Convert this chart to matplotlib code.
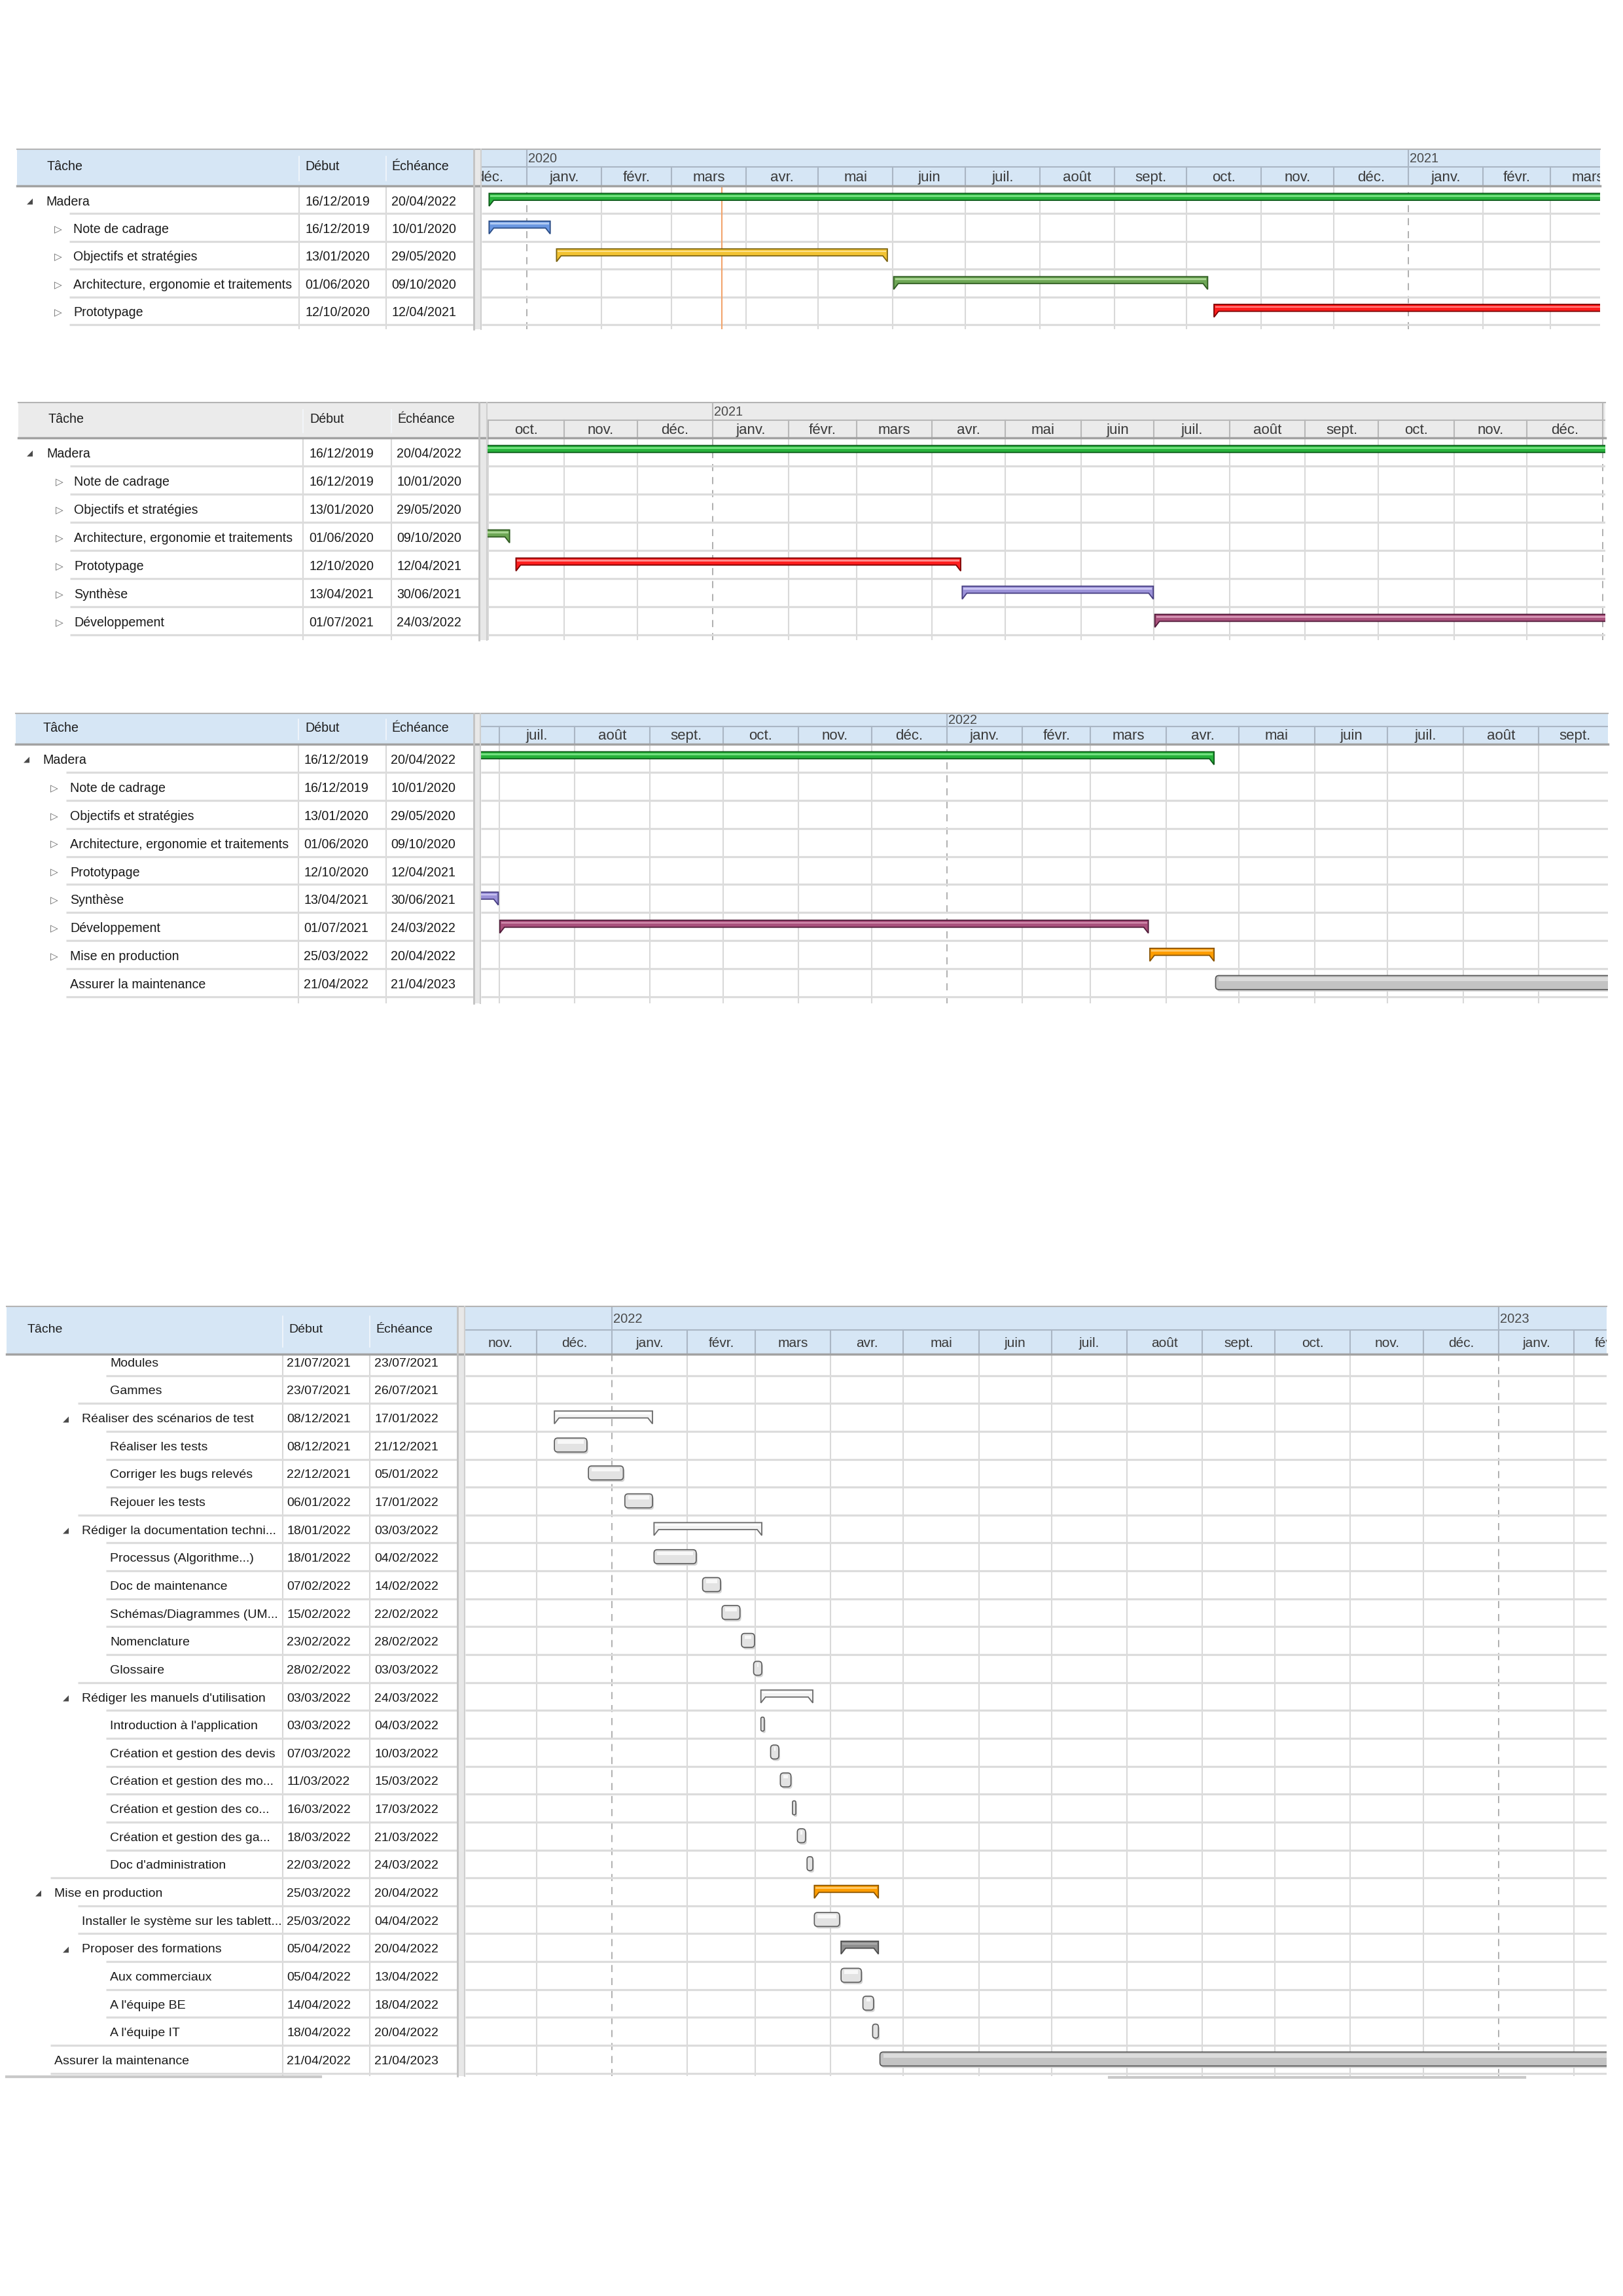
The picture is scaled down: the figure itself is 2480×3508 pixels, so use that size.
import datetime as dt
import numpy as np
import matplotlib
matplotlib.use("Agg")
import matplotlib.pyplot as plt
import matplotlib.dates as mdates
from matplotlib import font_manager as fm
from matplotlib.patches import Polygon, Rectangle, FancyBboxPatch

# =============================================================================
# DONNÉES
# =============================================================================
MOIS = ["janv.", "févr.", "mars", "avr.", "mai", "juin", "juil.", "août",
        "sept.", "oct.", "nov.", "déc."]
COLONNES = ["Tâche", "Début", "Échéance"]

# phases principales (vues 1 à 3)
phases = ["Madera", "Note de cadrage", "Objectifs et stratégies",
          "Architecture, ergonomie et traitements", "Prototypage", "Synthèse",
          "Développement", "Mise en production", "Assurer la maintenance"]
phases_debut = ["16/12/2019", "16/12/2019", "13/01/2020", "01/06/2020", "12/10/2020",
                "13/04/2021", "01/07/2021", "25/03/2022", "21/04/2022"]
phases_fin = ["20/04/2022", "10/01/2020", "29/05/2020", "09/10/2020", "12/04/2021",
              "30/06/2021", "24/03/2022", "20/04/2022", "21/04/2023"]
phases_niveau = [0, 1, 1, 1, 1, 1, 1, 1, 1]
phases_etat = ["ouvert", "ferme", "ferme", "ferme", "ferme", "ferme", "ferme", "ferme", ""]
phases_type = ["recap"] * 8 + ["tache"]
lignes_par_vue = [5, 7, 9]
aujourdhui = "22/03/2020"

# détail (vue 4)
detail = ["Modules", "Gammes", "Réaliser des scénarios de test", "Réaliser les tests",
          "Corriger les bugs relevés", "Rejouer les tests",
          "Rédiger la documentation techni...", "Processus (Algorithme...)",
          "Doc de maintenance", "Schémas/Diagrammes (UM...", "Nomenclature", "Glossaire",
          "Rédiger les manuels d'utilisation", "Introduction à l'application",
          "Création et gestion des devis", "Création et gestion des mo...",
          "Création et gestion des co...", "Création et gestion des ga...",
          "Doc d'administration", "Mise en production",
          "Installer le système sur les tablett...", "Proposer des formations",
          "Aux commerciaux", "A l'équipe BE", "A l'équipe IT", "Assurer la maintenance"]
detail_debut = ["21/07/2021", "23/07/2021", "08/12/2021", "08/12/2021", "22/12/2021",
                "06/01/2022", "18/01/2022", "18/01/2022", "07/02/2022", "15/02/2022",
                "23/02/2022", "28/02/2022", "03/03/2022", "03/03/2022", "07/03/2022",
                "11/03/2022", "16/03/2022", "18/03/2022", "22/03/2022", "25/03/2022",
                "25/03/2022", "05/04/2022", "05/04/2022", "14/04/2022", "18/04/2022",
                "21/04/2022"]
detail_fin = ["23/07/2021", "26/07/2021", "17/01/2022", "21/12/2021", "05/01/2022",
              "17/01/2022", "03/03/2022", "04/02/2022", "14/02/2022", "22/02/2022",
              "28/02/2022", "03/03/2022", "24/03/2022", "04/03/2022", "10/03/2022",
              "15/03/2022", "17/03/2022", "21/03/2022", "24/03/2022", "20/04/2022",
              "04/04/2022", "20/04/2022", "13/04/2022", "18/04/2022", "20/04/2022",
              "21/04/2023"]
detail_niveau = [3, 3, 2, 3, 3, 3, 2, 3, 3, 3, 3, 3, 2, 3, 3, 3, 3, 3, 3, 1, 2, 2, 3, 3, 3, 1]
detail_etat = ["", "", "ouvert", "", "", "", "ouvert", "", "", "", "", "", "ouvert",
               "", "", "", "", "", "", "ouvert", "", "ouvert", "", "", "", ""]
detail_type = ["recap" if e == "ouvert" else "tache" for e in detail_etat]

# =============================================================================
# STYLES (fond, contour, reflet)
# =============================================================================
STYLE_PHASES = {
    "Madera": ("#27b23b", "#0d5a1a", "#72e07e"),
    "Note de cadrage": ("#6b98e2", "#2b4d86", "#b0caf2"),
    "Objectifs et stratégies": ("#f3c332", "#7d6410", "#fbe08a"),
    "Architecture, ergonomie et traitements": ("#6ea756", "#2f5b21", "#a8d492"),
    "Prototypage": ("#ff1e1e", "#7a0000", "#ff8a8a"),
    "Synthèse": ("#9b92d8", "#463d80", "#cbc5f2"),
    "Développement": ("#a9517c", "#521c3a", "#d492b2"),
    "Mise en production": ("#ff9d00", "#8a5400", "#ffc866"),
    "Assurer la maintenance": ("#c3c3c3", "#555555", "#dcdcdc"),
}
STYLE_DETAIL = {
    "Mise en production": ("#ff9d00", "#8a5400", "#ffc866"),
    "Proposer des formations": ("#8f8f8f", "#4c4c4c", "#b2b2b2"),
    "Assurer la maintenance": ("#c3c3c3", "#555555", "#dcdcdc"),
}
RECAP_DEFAUT = ("#f3f3f3", "#6b6b6b", "#ffffff")
TACHE_DEFAUT = ("#e3e3e3", "#5c5c5c", "#f8f8f8")

BLEU = "#d6e6f5"
GRIS = "#ebebeb"

# géométrie des 4 captures (pixels de la page)
VUES = [
    dict(h0=228, h1=255, h2=284, tl=26, c1=457, c2=590, tr=723, gl=736, gr=2445,
         r0=284, rh=42.4, bas=503, ancre="01/01/2020", ancre_px=805, ppd=3.68,
         fond=BLEU, sep="#aab6c4", tri=[41, 83], nom=[70, 112], dx=[466, 598],
         ent=[72, 466, 598], etroit=True),
    dict(h0=615, h1=642, h2=669, tl=28, c1=463, c2=598, tr=731, gl=745, gr=2453,
         r0=669, rh=43.0, bas=978, ancre="01/01/2022", ancre_px=2449, ppd=3.726,
         fond=GRIS, sep="#b8b8b8", tri=[41, 85], nom=[71, 113], dx=[472, 606],
         ent=[73, 473, 607], etroit=True),
    dict(h0=1090, h1=1110, h2=1137, tl=24, c1=456, c2=590, tr=723, gl=735, gr=2457,
         r0=1137, rh=42.9, bas=1533, ancre="01/01/2022", ancre_px=1447, ppd=3.72,
         fond=BLEU, sep="#aab6c4", tri=[36, 77], nom=[65, 107], dx=[464, 597],
         ent=[66, 466, 598], etroit=True),
    dict(h0=1996, h1=2032, h2=2069, tl=10, c1=432, c2=565, tr=698, gl=711, gr=2455,
         r0=2059, rh=42.64, bas=3172, ancre="01/01/2022", ancre_px=935, ppd=3.712,
         fond=BLEU, sep="#aab6c4", tri=[None, 54, 96, 138], nom=[None, 83, 125, 168],
         dx=[438, 572], ent=[42, 441, 574], etroit=False),
]
DECALAGE_TEXTE = 3  # px, centrage optique des libellés

# =============================================================================
# POLICES
# =============================================================================
dispo = {f.name for f in fm.fontManager.ttflist}
if "Liberation Sans Narrow" in dispo:
    POLICE_E, K_E = "Liberation Sans Narrow", 1.0
else:
    POLICE_E, K_E = "Liberation Sans", 0.82
POLICE_R = "Liberation Sans"

W, H = 2480, 3508
fig = plt.figure(figsize=(W / 100, H / 100), dpi=100)
fig.patch.set_facecolor("white")


def d(s):
    return mdates.date2num(dt.datetime.strptime(s, "%d/%m/%Y"))


def axes_px(x0, y0, x1, y1):
    ax = fig.add_axes([x0 / W, 1 - y1 / H, (x1 - x0) / W, (y1 - y0) / H])
    ax.set_xticks([])
    ax.set_yticks([])
    for sp in ax.spines.values():
        sp.set_visible(False)
    return ax


def debuts_mois(x0, x1):
    t = mdates.num2date(x0)
    an, mo = t.year, t.month
    out = []
    while True:
        v = mdates.date2num(dt.datetime(an, mo, 1))
        out.append((v, an, mo))
        if v > x1:
            break
        mo += 1
        if mo > 12:
            mo, an = 1, an + 1
    return out


def dessiner(v, noms, debuts, fins, niveaux, etats, types, styles, jour=None):
    n = len(noms)
    ppd, rh = v["ppd"], v["rh"]
    a = d(v["ancre"])
    x0 = a - (v["ancre_px"] - v["gl"]) / ppd
    x1 = a + (v["gr"] - v["ancre_px"]) / ppd
    ytop = (v["h2"] - v["r0"]) / rh
    ybot = (v["bas"] - v["r0"]) / rh
    if v["etroit"]:
        police, fs, fs_m, fs_a = POLICE_E, 17.3 * K_E, 19.5 * K_E, 17.5 * K_E
    else:
        police, fs, fs_m, fs_a = POLICE_R, 14, 15, 14.5

    mois = debuts_mois(x0, x1)

    # ---- en-tête de l'échéancier
    hx = axes_px(v["gl"], v["h0"], v["gr"], v["h2"])
    hx.set_facecolor(v["fond"])
    hx.set_xlim(x0, x1)
    hx.set_ylim(1, 0)
    yf = (v["h1"] - v["h0"]) / (v["h2"] - v["h0"])
    hx.axhline(yf, color=v["sep"], lw=1.5)
    for (m0, an, mo), (m1, _, _) in zip(mois[:-1], mois[1:]):
        hx.plot([m0, m0], [yf, 1], color=v["sep"], lw=1.5)
        visible = (min(m1, x1) - max(m0, x0)) * ppd
        if visible > 15:
            hx.text((m0 + m1) / 2, (yf + 1) / 2 + 0.03, MOIS[mo - 1], ha="center",
                    va="center", fontsize=fs_m, family=police, color="#3a3a3a",
                    clip_on=True)
        if mo == 1:
            hx.plot([m0, m0], [0, yf], color=v["sep"], lw=1.5)
            if (x1 - m0) * ppd > 40:
                hx.text(m0 + 2 / ppd, yf / 2 + 0.02, str(an), ha="left", va="center",
                        fontsize=fs_a, family=police, color="#4a4a4a", clip_on=True)

    # ---- corps de l'échéancier
    gx = axes_px(v["gl"], v["h2"], v["gr"], v["bas"])
    gx.set_xlim(x0, x1)
    gx.set_ylim(ybot, ytop)
    for m0, an, mo in mois[:-1]:
        if mo == 1:
            gx.axvline(m0, color="#a9a9a9", lw=1.3, ls=(0, (6, 5)), zorder=1)
        else:
            gx.axvline(m0, color="#d9d9d9", lw=1.5, zorder=1)
    gx.hlines(np.arange(1, n + 1), x0, x1, color="#dcdcdc", lw=2.3, zorder=1)
    if jour:
        gx.axvline(d(jour), color="#f2a46c", lw=1.5, zorder=2)

    w = 7 / ppd
    asp = ppd / rh
    for i in range(n):
        s = d(debuts[i]) + 8 / 24
        e = d(fins[i]) + 17 / 24
        fc, ec, hi = styles[i]
        if types[i] == "recap":
            haut, bas_, pointe = i + 0.27, i + 0.52, i + 0.73
            pts = [(s, haut), (e, haut), (e, pointe), (e - w, bas_), (s + w, bas_), (s, pointe)]
            gx.add_patch(Polygon(pts, closed=True, fc=fc, ec=ec, lw=1.3,
                                 joinstyle="miter", zorder=3))
            gx.add_patch(Rectangle((s + 2 / ppd, haut + 0.06), e - s - 4 / ppd, 0.06,
                                   fc=hi, ec="none", zorder=4))
        else:
            haut, hh = i + 0.24, 0.50
            r_px = max(0.5, min(5.0, (e - s) * ppd / 2 - 0.3, hh * rh / 2))
            bs = f"round,pad=0,rounding_size={r_px / ppd}"
            gx.add_patch(FancyBboxPatch((s + 2 / ppd, haut + 3 / rh), e - s, hh, boxstyle=bs,
                                        mutation_aspect=asp, fc="#d2d2d2", ec="none",
                                        zorder=2))
            gx.add_patch(FancyBboxPatch((s, haut), e - s, hh, boxstyle=bs,
                                        mutation_aspect=asp, fc=fc, ec=ec, lw=1.2, zorder=3))
            if (e - s) * ppd > 12:
                gx.add_patch(Rectangle((s + r_px / ppd, haut + 0.07), e - s - 2 * r_px / ppd,
                                       0.13, fc=hi, ec="none", zorder=4))

    # ---- tableau
    tx = axes_px(v["tl"], v["h2"], v["tr"], v["bas"])
    tx.set_xlim(v["tl"], v["tr"])
    tx.set_ylim(ybot, ytop)
    tx.vlines([v["c1"], v["c2"]], ytop, ybot, color="#d8d8d8", lw=1.5)
    for i in range(1, n + 1):
        niv = niveaux[min(i, n - 1)]
        tx.hlines(i, v["nom"][niv] - 6, v["tr"], color="#dcdcdc", lw=2.3)
    for i in range(n):
        yc = i + 0.5 + DECALAGE_TEXTE / rh
        niv = niveaux[i]
        tx.text(v["nom"][niv], yc, noms[i], ha="left", va="center", fontsize=fs,
                family=police, color="#1a1a1a")
        if etats[i] == "ouvert":
            tx.text(v["tri"][niv], yc, "◢", ha="left", va="center", fontsize=8.5,
                    family="DejaVu Sans", color="#4a4a4a")
        elif etats[i] == "ferme":
            tx.text(v["tri"][niv], yc, "▷", ha="left", va="center", fontsize=11,
                    family="DejaVu Sans", color="#6a6a6a")
        tx.text(v["dx"][0], yc, debuts[i], ha="left", va="center", fontsize=fs,
                family=police, color="#1a1a1a")
        tx.text(v["dx"][1], yc, fins[i], ha="left", va="center", fontsize=fs,
                family=police, color="#1a1a1a")
    return police, fs


# =============================================================================
# TRACÉ DES QUATRE VUES
# =============================================================================
polices = []
for k, nb in enumerate(lignes_par_vue):
    st = [STYLE_PHASES[p] for p in phases[:nb]]
    polices.append(dessiner(VUES[k], phases[:nb], phases_debut[:nb], phases_fin[:nb],
                            phases_niveau[:nb], phases_etat[:nb], phases_type[:nb], st,
                            jour=aujourdhui if k == 0 else None))

st4 = [STYLE_DETAIL.get(nm, RECAP_DEFAUT if t == "recap" else TACHE_DEFAUT)
       for nm, t in zip(detail, detail_type)]
polices.append(dessiner(VUES[3], detail, detail_debut, detail_fin, detail_niveau,
                        detail_etat, detail_type, st4))

# ---- éléments d'interface au premier plan
ov = fig.add_axes([0, 0, 1, 1], facecolor="none")
ov.set_xlim(0, W)
ov.set_ylim(H, 0)
ov.axis("off")
for v, (police, fs) in zip(VUES, polices):
    h0, h2 = v["h0"], v["h2"]
    ov.add_patch(Rectangle((v["tl"], h0), v["tr"] - v["tl"], h2 - h0, fc=v["fond"], ec="none"))
    for x in (v["c1"], v["c2"]):
        ov.plot([x, x], [h0 + 0.2 * (h2 - h0), h2 - 0.15 * (h2 - h0)], color="#f4f8fc", lw=1.2)
    ov.plot([v["tl"], v["gr"]], [h0, h0], color="#b4b4b4", lw=1.5)
    ov.plot([v["tl"], v["gr"]], [h2, h2], color="#a2a2a2", lw=2.5)
    hc = (h0 + h2) / 2 - 1
    for x, lab in zip(v["ent"], COLONNES):
        ov.text(x, hc, lab, ha="left", va="center", fontsize=fs, family=police, color="#1e1e1e")
    # séparateur tableau / échéancier
    ov.add_patch(Rectangle((v["tr"], h0), v["gl"] - v["tr"], v["bas"] - h0,
                           fc="#e8e8e8", ec="none"))
    ov.plot([v["tr"] + 1, v["tr"] + 1], [h0, v["bas"]], color="#c2c2c2", lw=2)
    ov.plot([v["gl"] - 1, v["gl"] - 1], [h0, v["bas"]], color="#cfcfcf", lw=1.5)

# barres de défilement de la dernière vue
ov.plot([10, 490], [3173, 3173], color="#c9c9c9", lw=3)
ov.plot([1695, 2330], [3174, 3174], color="#c9c9c9", lw=3)

fig.savefig("out.png", dpi=100, facecolor="white")
